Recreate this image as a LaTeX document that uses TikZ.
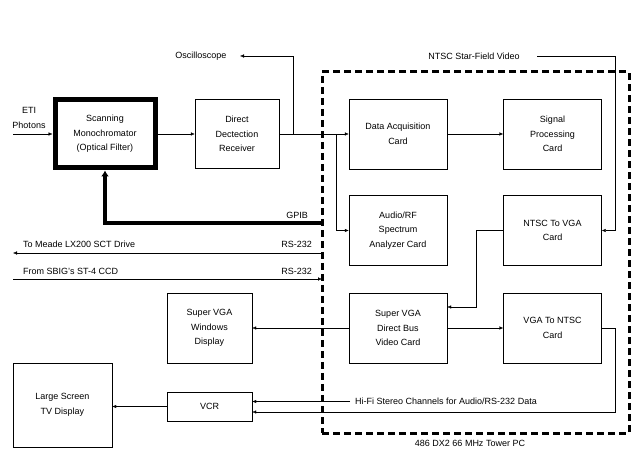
\documentclass[tikz,border=0pt]{standalone}
\usepackage{fontspec}
\setmainfont{Liberation Sans}
\usetikzlibrary{arrows.meta}

\begin{document}
\begin{tikzpicture}[x=1pt,y=-1pt,
  font=\fontsize{9}{14.5}\selectfont,
  card/.style={draw,align=center,inner sep=0pt,minimum width=98pt,minimum height=70pt},
  wire/.style={-{Latex[length=4pt,width=3.5pt]}},
  lbl/.style={inner sep=0pt}]
  \useasboundingbox (0,0) rectangle (640,462);

  \node[draw,line width=3pt,dash pattern=on 7pt off 4pt,inner sep=0pt,minimum width=307pt,minimum height=361pt] (pc) at (475.5,252.5) {};
  \node[lbl] (pclbl) at (470,443) {486 DX2 66 MHz Tower PC};

  \node[card,line width=5pt,minimum width=100pt,minimum height=68pt] (mono) at (105,134) {Scanning\\Monochromator\\(Optical Filter)};
  \node[card,minimum width=84pt,minimum height=69pt] (ddr) at (237,134) {Direct\\Dectection\\Receiver};
  \node[card] (daq) at (398,134) {Data Acquisition\\Card};
  \node[card] (sig) at (552.5,134) {Signal\\Processing\\Card};
  \node[card] (arf) at (398,230.5) {Audio/RF\\Spectrum\\Analyzer Card};
  \node[card] (ntv) at (552.5,230.5) {NTSC To VGA\\Card};
  \node[card] (svb) at (398,328) {Super VGA\\Direct Bus\\Video Card};
  \node[card] (vtn) at (552.5,328) {VGA To NTSC\\Card};
  \node[card,minimum width=85pt] (swd) at (209.5,328) {Super VGA\\Windows\\Display};
  \node[card,minimum width=85pt,minimum height=29pt] (vcr) at (209.5,406.5) {VCR};
  \node[card,minimum width=99pt,minimum height=84pt] (tv) at (62.5,405) {Large Screen\\TV Display};

  \node[lbl] (eti) at (29,110) {ETI};
  \node[lbl] (photons) at (29,125) {Photons};
  \node[lbl] (osc) at (201,56) {Oscilloscope};
  \node[lbl] (nsf) at (474,56) {NTSC Star-Field Video};
  \node[lbl,anchor=east] (gpiblbl) at (308,215) {GPIB};
  \node[lbl,anchor=west] (meadelbl) at (23,244) {To Meade LX200 SCT Drive};
  \node[lbl,anchor=east] (rsout) at (312,244) {RS-232};
  \node[lbl,anchor=west] (sbiglbl) at (23,271) {From SBIG's ST-4 CCD};
  \node[lbl,anchor=east] (rsin) at (312,271) {RS-232};
  \node[lbl,anchor=west] (hifi) at (355,401) {Hi-Fi Stereo Channels for Audio/RS-232 Data};

  \coordinate (etiin) at (13,134);
  \coordinate (oscend) at (240,56);
  \coordinate (nsfin) at (537,56);
  \coordinate (nsfr) at (615,56);
  \coordinate (gpib) at (322,223);
  \coordinate (meade) at (13,253);
  \coordinate (meadepc) at (322,253);
  \coordinate (sbig) at (13,279);
  \coordinate (sbigpc) at (322,279);
  \coordinate (hifiend) at (350,401.5);

  \draw[wire] (etiin) -- (mono.west);
  \draw[wire] (mono) -- (ddr);
  \draw[wire] (ddr) -- (daq);
  \draw[wire] (daq) -- (sig);
  \draw[wire] ([xshift=14pt]ddr.east) |- (oscend);
  \draw[wire] ([xshift=-13pt]daq.west) |- (arf.west);
  \draw[line width=4pt,-{Latex[length=6pt,width=8pt]}] (gpib) -| (mono.south);
  \draw[wire] (meadepc) -- (meade);
  \draw[wire] (sbig) -- (sbigpc);
  \draw[wire] (nsfin) -- (nsfr) |- (ntv.east);
  \draw[wire] (ntv.west) -- ++(-27,0) |- ([yshift=21pt]svb.east);
  \draw[wire] (svb) -- (vtn);
  \draw[wire] (svb) -- (swd);
  \draw[wire] (vtn.east) -- ++(13,0) |- ([yshift=-5.5pt]vcr.east);
  \draw[wire] (hifiend) -- (vcr.east |- hifiend);
  \draw[wire] (vcr.west) -- (tv.east |- vcr.west);
\end{tikzpicture}
\end{document}
